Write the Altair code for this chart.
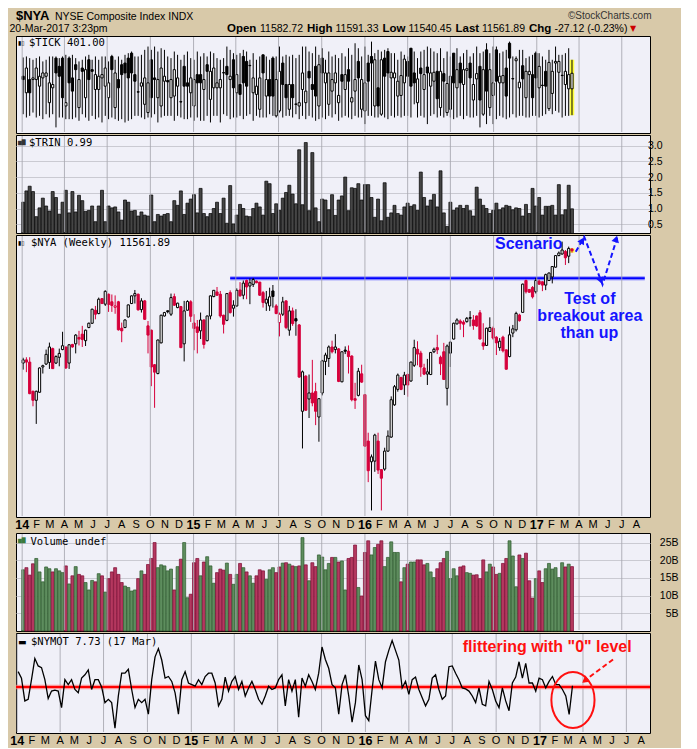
import altair as alt
import numpy as np
import pandas as pd

# ---------------------------------------------------------------------------
# Weekly data, week of 6-Jan-2014 ... week of 20-Mar-2017 (168 weeks)
# ---------------------------------------------------------------------------
nya_open = [
    10340, 10373, 10350, 10054, 9964, 10044, 10300, 10330, 10347, 10490,
    10340, 10400, 10480, 10507, 10340, 10533, 10540, 10607, 10642, 10573,
    10712, 10758, 10898, 10862, 11025, 10964, 11073, 10990, 10930, 10990,
    10705, 10712, 10825, 10971, 11055, 11073, 10905, 11000, 10730, 10684,
    10323, 10233, 10550, 10836, 10892, 10855, 11047, 10927, 10938, 10540,
    10898, 10990, 10761, 10719, 10677, 10793, 10573, 10836, 11047, 11098,
    11073, 10844, 10789, 11091, 10920, 10945, 11120, 11062, 11225, 11164,
    11182, 11218, 11207, 11091, 10975, 10945, 11109, 10945, 10765, 10855,
    11000, 10684, 10891, 10807, 10740, 9856, 10207, 9977, 10037, 10051,
    9800, 10037, 10357, 10387, 10507, 10480, 10487, 10149, 10475, 10463,
    10413, 9980, 10013, 10230, 10020, 9568, 9373, 9379, 9568, 9300,
    9305, 9473, 9606, 9919, 10073, 10193, 10117, 10223, 10157, 10317,
    10483, 10443, 10290, 10227, 10223, 10457, 10500, 10400, 10457, 10083,
    10443, 10590, 10751, 10782, 10770, 10775, 10818, 10793, 10836, 10871,
    10550, 10523, 10670, 10705, 10610, 10500, 10610, 10477, 10407, 10653,
    10688, 10846, 10875, 11225, 11126, 11148, 11100, 11218, 11211, 11174,
    11225, 11265, 11375, 11507, 11525, 11554, 11500, 11582.72,
]
nya_high = [
    10395, 10400, 10400, 10060, 10060, 10295, 10323, 10480, 10553, 10500,
    10420, 10490, 10667, 10510, 10535, 10540, 10642, 10677, 10730, 10690,
    10765, 10915, 10945, 11036, 11030, 11116, 11080, 11070, 11060, 11000,
    10765, 10800, 10960, 11060, 11120, 11080, 11029, 11010, 10782, 10690,
    10330, 10585, 10850, 10880, 10895, 11080, 11080, 10980, 10945, 11000,
    11007, 11007, 10855, 10793, 10873, 10800, 10840, 11060, 11120, 11153,
    11109, 10850, 11085, 11116, 11007, 11138, 11207, 11225, 11236, 11247,
    11254, 11225, 11210, 11109, 11109, 11145, 11175, 10964, 10873, 11044,
    11005, 10945, 10927, 10909, 10750, 10263, 10215, 10223, 10373, 10139,
    9985, 10373, 10447, 10523, 10573, 10642, 10495, 10460, 10513, 10523,
    10420, 10139, 10290, 10323, 10025, 9648, 9441, 9638, 9648, 9305,
    9505, 9670, 10003, 10117, 10233, 10200, 10250, 10233, 10355, 10583,
    10567, 10467, 10333, 10383, 10455, 10500, 10635, 10417, 10550, 10533,
    10567, 10765, 10811, 10800, 10790, 10825, 10889, 10846, 10840, 10900,
    10758, 10710, 10821, 10723, 10620, 10600, 10625, 10480, 10723, 10740,
    10882, 10860, 11190, 11236, 11130, 11163, 11255, 11236, 11215, 11302,
    11315, 11385, 11510, 11554, 11668, 11571, 11610, 11591.33,
]
nya_low = [
    10273, 10247, 10025, 9905, 9733, 10040, 10233, 10320, 10280, 10280,
    10330, 10307, 10473, 10280, 10280, 10500, 10440, 10523, 10507, 10517,
    10705, 10750, 10800, 10855, 10965, 10945, 10880, 10880, 10860, 10680,
    10557, 10705, 10820, 10965, 10971, 10895, 10873, 10795, 10440, 10105,
    9890, 10225, 10545, 10830, 10865, 10836, 10945, 10920, 10495, 10357,
    10895, 10772, 10473, 10440, 10590, 10490, 10565, 10800, 11040, 11055,
    10818, 10649, 10780, 10862, 10829, 10935, 11047, 11018, 11018, 10964,
    11153, 11195, 11055, 10927, 10891, 10891, 10927, 10855, 10618, 10836,
    10695, 10625, 10730, 10625, 10190, 9498, 9860, 9790, 9905, 9721,
    9562, 10013, 10217, 10300, 10440, 10440, 10146, 10145, 10433, 10233,
    9954, 9879, 10003, 10139, 9515, 9185, 8930, 9280, 9260, 8930,
    9290, 9467, 9600, 9910, 10050, 10065, 10017, 10000, 10150, 10300,
    10317, 10200, 10217, 10117, 10217, 10443, 10433, 10217, 10167, 9913,
    10300, 10585, 10745, 10688, 10610, 10765, 10723, 10688, 10720, 10588,
    10477, 10520, 10665, 10583, 10423, 10467, 10450, 10273, 10400, 10610,
    10670, 10775, 10870, 11081, 11090, 11026, 11081, 11175, 11107, 11118,
    11220, 11193, 11370, 11500, 11518, 11400, 11421, 11540.45,
]
nya_close = [
    10373, 10350, 10030, 9964, 10054, 10290, 10313, 10430, 10507, 10283,
    10407, 10440, 10520, 10290, 10530, 10507, 10632, 10590, 10585, 10684,
    10758, 10909, 10855, 11018, 10971, 11105, 10960, 10950, 10945, 10688,
    10677, 10793, 10956, 11055, 11080, 10902, 11000, 10800, 10632, 10300,
    10247, 10580, 10844, 10873, 10882, 11036, 10953, 10975, 10500, 10891,
    10993, 10833, 10702, 10660, 10793, 10533, 10836, 11055, 11116, 11062,
    10836, 10747, 11080, 10873, 10953, 11116, 11055, 11196, 11153, 11200,
    11236, 11200, 11062, 10982, 11018, 11044, 11048, 10862, 10855, 10989,
    10712, 10891, 10754, 10782, 10197, 10250, 9866, 10037, 9938, 9856,
    9980, 10363, 10423, 10507, 10457, 10507, 10153, 10457, 10462, 10407,
    9970, 9964, 10257, 10146, 9520, 9290, 9419, 9625, 9296, 9221,
    9473, 9616, 9970, 10100, 10217, 10073, 10217, 10117, 10350, 10500,
    10433, 10300, 10227, 10250, 10450, 10483, 10477, 10333, 10173, 10517,
    10557, 10758, 10793, 10758, 10748, 10811, 10812, 10733, 10728, 10590,
    10517, 10705, 10712, 10600, 10550, 10567, 10467, 10277, 10635, 10698,
    10864, 10786, 11185, 11100, 11095, 11044, 11225, 11185, 11174, 11291,
    11309, 11382, 11507, 11536, 11571, 11482, 11589.01, 11561.89,
]

tick_open = [
    288, -338, 163, 163, 163, -88, 225, 288, -713, -150,
    975, 663, 975, -838, 975, 225, 725, -900, 600, -525,
    913, 538, -213, -213, 225, -88, -525, 1038, -900, 163,
    725, 788, 975, 1163, 350, -300, -88, -775, -1088, 913,
    225, -525, -838, 100, 125, -525, -463, -88, -675, 663,
    38, -338, -838, 350, 350, -213, 725, -588, -150, -150,
    -150, 425, 663, 163, 913, -338, -25, 1038, 850, 700,
    -338, -400, -963, 1100, -463, 163, 975, -1213, -1025, 788,
    -25, -963, -25, -763, -838, -213, -713, 475, -25, 663,
    -838, 975, 38, -775, -275, 38, -713, 350, -213, 538,
    -688, -275, 850, -963, -1025, 788, 1038, -838, -150, -1150,
    975, 1225, 225, 225, -463, -438, 38, 850, 1350, 413,
    -713, 600, -213, 638, -88, 100, 475, -900, 388, -1088,
    -963, 1163, -150, 788, -25, 513, 788, -613, 188, 663,
    -1150, 1288, -900, -438, 1288, 38, 38, 600, 1538, 200,
    875, -150, 688, -525, 350, 350, 1163, -150, -50, 475,
    -938, -363, 788, 438, 325, -25, -188, -188,
]
tick_high = [
    1000, 1038, 975, 913, 975, 1038, 850, 913, 1038, 1038,
    1038, 975, 1038, 1100, 1038, 1100, 975, 850, 913, 1038,
    1100, 913, 1038, 913, 1038, 1038, 850, 1100, 913, 1038,
    913, 1100, 1163, 1225, 1038, 1038, 1100, 1288, 1413, 1288,
    1413, 1225, 1350, 1288, 1038, 975, 1225, 1100, 913, 1100,
    1225, 975, 913, 1225, 1038, 1163, 1038, 1225, 1163, 975,
    913, 975, 1413, 1288, 1163, 1100, 1163, 1288, 1225, 913,
    1163, 913, 1038, 1100, 1038, 913, 1038, 1038, 1413, 1038,
    1100, 1038, 1100, 975, 1100, 1413, 1413, 1225, 1163, 1413,
    1100, 1350, 913, 1225, 1038, 1100, 975, 1163, 1038, 1350,
    1100, 1538, 1350, 1038, 1413, 1100, 1600, 1163, 1288, 1225,
    1288, 1350, 1163, 1163, 913, 1225, 1100, 1038, 1350, 1225,
    975, 1225, 1288, 1413, 1350, 1225, 1163, 1350, 975, 1225,
    1038, 1163, 1350, 1038, 1163, 1288, 1038, 1163, 1413, 1163,
    1225, 1538, 1163, 1413, 1413, 1163, 1225, 1288, 1600, 1038,
    1038, 1288, 1288, 975, 1038, 1100, 1225, 1163, 1038, 913,
    1288, 913, 1413, 1100, 1100, 1163, 1350, 913,
]
tick_low = [
    -1150, -1275, -1213, -1088, -1275, -1213, -1338, -1150, -1275, -1150,
    -1650, -1275, -1275, -1338, -1338, -1338, -1275, -1400, -1150, -1275,
    -1400, -1213, -1338, -1275, -1463, -1213, -1338, -1275, -1338, -1400,
    -1338, -1463, -1400, -1338, -1213, -1213, -1275, -1338, -1275, -1275,
    -1150, -1463, -1275, -1213, -1213, -1213, -1400, -1213, -1275, -1338,
    -1338, -1275, -1400, -1275, -1400, -1400, -1213, -1463, -1213, -1213,
    -1463, -1150, -1213, -1338, -1275, -1275, -1213, -1338, -1213, -1150,
    -1400, -1213, -1275, -1275, -1275, -1150, -1213, -1275, -1088, -1275,
    -1213, -1213, -1275, -1150, -1338, -1213, -1338, -1213, -1275, -1400,
    -1338, -1275, -1338, -1213, -1275, -1150, -1400, -1275, -1213, -1275,
    -1338, -1213, -1275, -1275, -1525, -1213, -1213, -1275, -1275, -1213,
    -1275, -1338, -1213, -1275, -1213, -1275, -1213, -1213, -1275, -775,
    -1275, -1213, -1275, -1525, -1213, -1150, -1275, -1213, -1275, -1213,
    -1275, -1338, -1275, -1213, -1338, -1213, -1275, -1275, -1213, -1650,
    -1213, -1525, -1213, -1525, -1338, -1213, -1275, -1338, -1275, -1150,
    -1275, -1213, -1213, -1275, -1275, -1213, -1213, -1275, -1213, -1150,
    -1025, -1150, -1025, -1088, -1275, -1213, -1213, -1188,
]
tick_close = [
    163, 600, -338, 225, 600, 288, 413, 413, 38, -25,
    413, 288, -525, -713, 38, -275, 538, 163, 475, 538,
    163, 475, 350, 288, 350, 600, 38, 538, 413, -150,
    350, 413, 225, 413, 100, -313, 38, 225, 38, -525,
    163, 163, 600, 288, 75, 163, 538, 225, -688, -88,
    -88, 225, 163, 38, 38, 163, 475, 475, 600, 38,
    163, 413, 350, 288, -150, 350, -400, 38, -88, 688,
    225, -88, 225, 413, 163, -463, -463, 163, 475, -25,
    -525, -25, -525, -775, -713, 413, -275, 225, -213, -463,
    725, 413, 413, 413, 163, 413, -438, 100, 350, 100,
    -525, 163, 225, 163, 38, 100, 788, 913, -838, 913,
    288, 413, 438, 413, 100, 313, 938, 288, -88, 38,
    188, 388, 350, 413, 413, 438, -563, 475, 100, 13,
    288, 38, 538, 38, 538, 575, 225, -25, 388, -613,
    538, -275, 538, 38, 100, 288, 313, -463, 975, 188,
    950, 63, 188, 475, 475, -525, 225, 663, -63, -88,
    813, 475, 850, 850, 313, 475, 350, 401,
]

trin_values = [
    1.20, 1.56, 1.71, 1.54, 0.74, 1.02, 1.33, 1.08, 0.92, 1.54,
    1.35, 0.82, 1.20, 1.58, 0.86, 1.54, 0.89, 1.42, 1.25, 0.91,
    0.94, 1.08, 0.58, 1.08, 1.58, 0.58, 1.08, 1.02, 1.05, 0.89,
    0.63, 1.27, 1.20, 0.92, 0.94, 0.76, 0.89, 0.79, 0.76, 1.43,
    0.58, 0.81, 0.76, 0.81, 0.84, 0.58, 1.25, 1.10, 1.56, 0.81,
    1.17, 1.30, 1.44, 0.86, 1.64, 0.84, 0.74, 0.84, 1.00, 1.20,
    0.84, 1.33, 0.53, 1.73, 0.51, 0.79, 1.13, 1.00, 0.76, 0.74,
    1.00, 1.17, 1.05, 0.79, 1.87, 1.79, 0.84, 1.15, 0.94, 1.33,
    1.51, 1.74, 1.46, 1.15, 2.87, 1.12, 3.10, 0.93, 2.78, 1.02,
    0.58, 1.30, 1.27, 0.96, 1.44, 0.78, 1.27, 1.40, 2.00, 0.93,
    1.66, 1.64, 1.79, 1.27, 1.76, 1.76, 1.35, 0.72, 1.30, 0.61,
    1.82, 0.72, 0.86, 1.10, 0.84, 0.79, 1.05, 1.17, 1.07, 1.12,
    0.94, 2.16, 1.35, 1.08, 1.27, 1.45, 1.05, 2.20, 0.86, 0.43,
    1.20, 0.94, 1.02, 1.10, 1.00, 1.10, 0.93, 0.76, 1.68, 1.30,
    1.10, 1.00, 0.84, 0.94, 1.17, 0.96, 1.02, 1.10, 1.07, 0.96,
    1.02, 1.00, 0.76, 1.13, 0.84, 1.64, 1.08, 1.35, 0.79, 1.07,
    1.07, 1.10, 0.79, 1.76, 0.80, 0.96, 1.74, 0.99,
]

volume_billions = [
    17.3, 17.9, 15.8, 19.0, 20.5, 16.7, 13.9, 18.1, 17.6, 16.7,
    17.6, 17.0, 16.5, 18.4, 13.3, 15.6, 18.2, 16.0, 15.6, 13.7,
    11.6, 14.3, 13.9, 16.2, 15.6, 11.0, 14.8, 16.7, 17.9, 16.0,
    13.7, 12.7, 12.3, 11.3, 11.6, 14.8, 17.0, 16.0, 18.8, 20.5,
    25.0, 17.9, 18.7, 18.4, 17.0, 17.5, 11.6, 18.2, 20.3, 25.0,
    9.4, 10.4, 19.3, 20.5, 15.6, 19.5, 21.0, 18.4, 13.5, 16.5,
    17.5, 17.2, 19.2, 16.0, 13.2, 16.0, 19.1, 17.9, 16.7, 15.6,
    13.5, 15.6, 17.3, 17.0, 14.6, 17.3, 17.9, 16.5, 18.1, 19.2,
    19.3, 18.9, 18.4, 18.2, 18.4, 26.4, 18.7, 14.2, 19.3, 18.2,
    21.5, 20.9, 17.3, 19.1, 20.8, 20.8, 19.5, 19.8, 11.6, 20.5,
    20.8, 24.3, 12.3, 9.9, 22.2, 25.5, 21.5, 23.6, 24.5, 25.5,
    18.2, 20.8, 25.2, 22.2, 22.2, 13.9, 17.9, 18.9, 19.5, 19.5,
    20.1, 20.1, 18.7, 19.1, 16.7, 15.1, 17.6, 19.3, 20.5, 22.5,
    14.8, 17.6, 15.6, 18.1, 18.4, 16.5, 16.3, 15.8, 15.9, 14.8,
    20.1, 16.7, 18.9, 18.1, 16.0, 16.3, 19.1, 20.5, 25.5, 21.2,
    12.5, 21.5, 20.5, 22.0, 14.2, 9.3, 14.8, 17.0, 13.7, 17.6,
    19.1, 17.5, 17.9, 15.1, 19.3, 18.1, 18.9, 18.2,
]

nymot_values = [
    106, 61, -97, -86, 50, 197, 145, 133, 50, -81,
    -29, -23, -29, -143, 50, 16, 50, -18, -41, 61,
    84, 118, -18, 50, 50, 0, -109, -86, -109, -285,
    -63, 95, 95, 122, -18, -143, -86, -109, -86, -188,
    50, 208, 265, 186, 61, 72, 38, -41, -188, 50,
    106, 27, 16, 5, 50, 16, 72, 95, 95, 27,
    -131, -86, 68, -29, 38, 72, -18, 38, -63, -7,
    38, -18, -86, -120, -63, 5, -18, -7, 50, 84,
    -131, 50, -29, 50, -210, 61, 5, 84, 38, -18,
    95, 276, 190, 129, 16, -7, -188, 16, 84, -63,
    -244, -109, 152, 50, -199, -233, -18, 179, 50, -7,
    174, 253, 321, 253, 186, -7, 38, -52, 50, 68,
    -18, -75, -131, -86, 61, 84, -18, -86, -63, 140,
    145, 95, 50, -7, -14, -29, -63, -109, -7, -120,
    -131, 38, -18, -97, -143, -7, -97, -165, 27, 68,
    174, 61, 163, 27, 27, -29, 61, 50, -7, 38,
    72, 16, 16, -18, -63, -190, 7.73,
]

breakout_level = 11250

N = len(nya_close)
for arr in (nya_open, nya_high, nya_low, tick_open, tick_high, tick_low, tick_close,
            trin_values, volume_billions):
    assert len(arr) == N, len(arr)
assert len(nymot_values) == N - 1

# weekly bars are drawn one trading day ahead of each week's Monday, as on the source chart
week_dates = pd.date_range("2014-01-03", periods=N, freq="7D")

# month / quarter scaffolding for the time axis
month_starts = pd.date_range("2014-01-01", "2017-08-01", freq="MS")
month_df = pd.DataFrame({
    "date": month_starts,
    "label": [d.strftime("%y") if d.month == 1 else d.strftime("%b")[0] for d in month_starts],
    "is_year": [d.month == 1 for d in month_starts],
})
quarter_df = month_df[[d.month in (1, 4, 7, 10) for d in month_starts]][["date"]]

# ---------------------------------------------------------------------------
# Styling
# ---------------------------------------------------------------------------
W = 634
H_HEAD, H_TICK, H_TRIN, H_MAIN, H_VOL, H_MOT = 25, 97, 98, 282, 98, 100

BG = "#D8C9A9"
PLOT_BG = "#F0F0F8"
GRID_H = "#CACAD2"
GRID_V = "#A6A6AE"
RED = "#D6003B"
RED2 = "#FF1010"
BLUE = "#1414FF"
LFONT = "Liberation Sans"
TFONT = "DejaVu Sans Mono"

xscale = alt.Scale(domain=[alt.DateTime(year=2013, month=12, date=29, hours=12),
                           alt.DateTime(year=2017, month=8, date=19, hours=12)])


def X():
    return alt.X("date:T", scale=xscale, axis=None)


def y_axis(values, pad, expr):
    return alt.Axis(
        orient="right", values=values, title=None, domain=False, ticks=False, tickSize=0,
        grid=True, gridColor=GRID_H, labelAlign="right", labelPadding=pad, labelExpr=expr,
        labelFont=LFONT, labelFontSize=10.5, labelColor="black", labelBaseline="middle",
        labelFlush=False, labelOverlap=False,
    )


def quarter_grid(h):
    # quarterly vertical grid
    return alt.Chart(quarter_df).mark_rule(color=GRID_V, strokeWidth=1, opacity=0.85).encode(
        x=X(), y=alt.value(1), y2=alt.value(h - 1))


def month_labels(h):
    years = alt.Chart(month_df[month_df["is_year"]]).mark_text(
        font=LFONT, fontSize=12.5, fontWeight="bold", color="black",
        align="center", baseline="top").encode(x=X(), y=alt.value(h + 1.5), text="label:N")
    months = alt.Chart(month_df[~month_df["is_year"]]).mark_text(
        font=LFONT, fontSize=11, color="black",
        align="center", baseline="top").encode(x=X(), y=alt.value(h + 2), text="label:N")
    return [years, months]


def text_layer(text, x, y, size, weight="normal", color="black", align="left",
               baseline="alphabetic", font=LFONT):
    return alt.Chart(pd.DataFrame({"t": [text]})).mark_text(
        align=align, baseline=baseline, font=font, fontSize=size, fontWeight=weight, color=color
    ).encode(x=alt.value(x), y=alt.value(y), text="t:N")


def panel_title(icon, icon_color, icon_size, text, x, y):
    return [
        text_layer(icon, 2, y + 1.5, icon_size, color=icon_color, baseline="top", font="DejaVu Sans"),
        text_layer(text, x, y, 10.5, baseline="top", font=TFONT),
    ]


# ---------------------------------------------------------------------------
# Header
# ---------------------------------------------------------------------------
chg = nya_close[-1] - nya_close[-2]
chg_pct = chg / nya_close[-2] * 100
LINE2 = 22.5
header_layers = [
    text_layer("$NYA", 0, 11, 13, weight="bold"),
    text_layer("NYSE Composite Index  INDX", 39, 11, 10.5),
    text_layer("\u00a9StockCharts.com", 635.5, 10, 10, align="right", color="#333333"),
    text_layer("20-Mar-2017 3:23pm", -6.5, LINE2, 10.5),
    text_layer("Open", 211, LINE2, 11.5, weight="bold"),
    text_layer(f"{nya_open[-1]:.2f}", 244, LINE2, 10.5),
    text_layer("High", 291, LINE2, 11.5, weight="bold"),
    text_layer(f"{nya_high[-1]:.2f}", 319.5, LINE2, 10.5),
    text_layer("Low", 366.5, LINE2, 11.5, weight="bold"),
    text_layer(f"{nya_low[-1]:.2f}", 392.5, LINE2, 10.5),
    text_layer("Last", 439.5, LINE2, 11.5, weight="bold"),
    text_layer(f"{nya_close[-1]:.2f}", 466, LINE2, 10.5),
    text_layer("Chg", 513, LINE2, 11.5, weight="bold"),
    text_layer(f"{chg:.2f} ({chg_pct:.2f}%)", 538.5, LINE2, 10.5),
    text_layer("\u25bc", 614, LINE2 - 0.5, 8, color="#CC0000", font="DejaVu Sans"),
]
header = alt.layer(*header_layers).properties(
    width=W, height=H_HEAD, view=alt.ViewBackground(fill=BG, stroke="transparent")
)

# ---------------------------------------------------------------------------
# $TICK panel
# ---------------------------------------------------------------------------
tick_df = pd.DataFrame({"date": week_dates, "open": tick_open, "high": tick_high,
                        "low": tick_low, "close": tick_close})
tick_df["fill"] = np.where(tick_df["close"] > tick_df["open"], "white", "black")
tick_y = alt.Scale(domain=[-1862, 1813], nice=False, zero=False)

tick_hl = alt.Chart(tick_df.tail(1)).mark_bar(size=4.5, color="#FFFF3C").encode(
    x=X(), y=alt.Y("low:Q", scale=tick_y,
                   axis=y_axis([-1500, -1000, -500, 0, 500, 1000, 1500], 28, "'' + datum.value")),
    y2="high:Q")
tick_wick = alt.Chart(tick_df).mark_rule(color="black", strokeWidth=1).encode(
    x=X(), y=alt.Y("low:Q", scale=tick_y, axis=None), y2="high:Q")
tick_body = alt.Chart(tick_df).mark_bar(size=2.2, stroke="black", strokeWidth=1).encode(
    x=X(), y=alt.Y("open:Q", scale=tick_y, axis=None), y2="close:Q",
    fill=alt.Fill("fill:N", scale=None))
tick_panel = alt.layer(
    tick_hl, tick_wick, tick_body, quarter_grid(H_TICK),
    *panel_title("\u25ae\u25af", "black", 6, f"$TICK {tick_close[-1]:.2f}", 13, 2),
).properties(width=W, height=H_TICK)

# ---------------------------------------------------------------------------
# $TRIN panel
# ---------------------------------------------------------------------------
trin_df = pd.DataFrame({"date": week_dates, "trin": trin_values})
trin_y = alt.Scale(domain=[0.22, 3.34], nice=False, zero=False)
trin_bars = alt.Chart(trin_df).mark_bar(size=3.0, fill="#454545", stroke="black",
                                        strokeWidth=0.7, clip=True).encode(
    x=X(),
    y=alt.Y("trin:Q", scale=trin_y,
            axis=y_axis([0.5, 1.0, 1.5, 2.0, 2.5, 3.0], 12, "format(datum.value, '.1f')")),
    y2=alt.datum(0))
trin_panel = alt.layer(
    trin_bars, quarter_grid(H_TRIN),
    *panel_title("\u2586\u2588", "#333333", 5, f"$TRIN {trin_values[-1]:.2f}", 13, 3),
).properties(width=W, height=H_TRIN)

# ---------------------------------------------------------------------------
# $NYA weekly candles
# ---------------------------------------------------------------------------
nya_df = pd.DataFrame({"date": week_dates, "open": nya_open, "high": nya_high,
                       "low": nya_low, "close": nya_close})
prev_close = nya_df["close"].shift(1).fillna(nya_df["open"])
up = nya_df["close"] >= prev_close
nya_df["color"] = np.where(up, "black", RED)
nya_df["fill"] = np.where(nya_df["close"] > nya_df["open"], "white", nya_df["color"])
nya_y = alt.Scale(type="log", domain=[8872, 11745], nice=False, zero=False)

level_df = pd.DataFrame({"date": [pd.Timestamp("2015-03-20"), pd.Timestamp("2017-08-19")],
                         "price": [breakout_level, breakout_level]})
level_glow = alt.Chart(level_df).mark_line(color="#7A7AFF", strokeWidth=4.5, opacity=0.6).encode(
    x=X(), y=alt.Y("price:Q", scale=nya_y, axis=None))
level_line = alt.Chart(level_df).mark_line(color="#0000FF", strokeWidth=2).encode(
    x=X(), y=alt.Y("price:Q", scale=nya_y, axis=None))

nya_hl = alt.Chart(nya_df.tail(1)).mark_bar(size=5, color="#FFFF3C").encode(
    x=X(), y=alt.Y("low:Q", scale=nya_y, axis=None), y2="high:Q")
nya_wick = alt.Chart(nya_df).mark_rule(strokeWidth=1).encode(
    x=X(),
    y=alt.Y("low:Q", scale=nya_y,
            axis=y_axis(list(range(9000, 11601, 200)), 32, "'' + datum.value")),
    y2="high:Q", color=alt.Color("color:N", scale=None))
nya_body = alt.Chart(nya_df).mark_bar(size=2.2, strokeWidth=1).encode(
    x=X(), y=alt.Y("open:Q", scale=nya_y, axis=None), y2="close:Q",
    fill=alt.Fill("fill:N", scale=None), stroke=alt.Stroke("color:N", scale=None))

scenario_path = pd.DataFrame({
    "date": pd.to_datetime(["2017-03-25", "2017-04-12", "2017-05-21", "2017-06-22"]),
    "price": [11551, 11722, 11181, 11728], "order": [0, 1, 2, 3]})
scenario_heads = pd.DataFrame({
    "date": pd.to_datetime(["2017-04-08", "2017-05-18", "2017-06-19"]),
    "price": [11682, 11222, 11700], "ang": [29, 159, 16]})
scen_line = alt.Chart(scenario_path).mark_line(color=BLUE, strokeWidth=2, strokeDash=[5, 3],
                                               clip=True).encode(
    x=X(), y=alt.Y("price:Q", scale=nya_y, axis=None), order="order:Q")
scen_heads = alt.Chart(scenario_heads).mark_point(shape="triangle-up", filled=True, size=60,
                                                  color=BLUE, opacity=1, clip=True).encode(
    x=X(), y=alt.Y("price:Q", scale=nya_y, axis=None), angle=alt.Angle("ang:Q", scale=None))
scen_text = pd.DataFrame({
    "date": pd.to_datetime(["2016-12-15", "2017-04-24", "2017-04-24", "2017-04-23"]),
    "price": [11642, 11022, 10835, 10652],
    "t": ["Scenario", "Test of", "breakout area", "than up"]})
scen_labels = alt.Chart(scen_text).mark_text(font=LFONT, fontSize=16, fontWeight="bold",
                                             color=BLUE, baseline="middle", align="center").encode(
    x=X(), y=alt.Y("price:Q", scale=nya_y, axis=None), text="t:N")

main_panel = alt.layer(
    level_glow, level_line, nya_hl, nya_wick, nya_body, quarter_grid(H_MAIN),
    scen_line, scen_heads, scen_labels,
    *panel_title("\u25ae\u25af", "black", 6, f"$NYA (Weekly) {nya_close[-1]:.2f}", 15, 3),
    *month_labels(H_MAIN),
).properties(width=W, height=H_MAIN)

# ---------------------------------------------------------------------------
# Volume panel
# ---------------------------------------------------------------------------
vol_df = pd.DataFrame({"date": week_dates, "vol": volume_billions})
vol_df["fill"] = np.where(up, "#5E8D5E", "#B4385F")
vol_df["stroke"] = np.where(up, "#2C5A2C", "#7C0A32")
vol_y = alt.Scale(domain=[0, 27.7], nice=False, zero=True)
vol_bars = alt.Chart(vol_df).mark_bar(size=3.0, strokeWidth=0.7).encode(
    x=X(),
    y=alt.Y("vol:Q", scale=vol_y, axis=y_axis([5, 10, 15, 20, 25], 28, "datum.value + 'B'")),
    fill=alt.Fill("fill:N", scale=None), stroke=alt.Stroke("stroke:N", scale=None))
vol_panel = alt.layer(
    vol_bars, quarter_grid(H_VOL),
    *panel_title("\u2586\u2588", "#3C7A3C", 5, "Volume undef", 14.5, 3.5),
).properties(width=W, height=H_VOL)

# ---------------------------------------------------------------------------
# $NYMOT panel
# ---------------------------------------------------------------------------
mot_df = pd.DataFrame({"date": week_dates[:N - 1], "mot": nymot_values})
mot_y = alt.Scale(domain=[-319, 373], nice=False, zero=False)
zero_df = pd.DataFrame({"level": [0]})
zero_glow = alt.Chart(zero_df).mark_rule(color="#FF7070", strokeWidth=4.5, opacity=0.7).encode(
    y=alt.Y("level:Q", scale=mot_y, axis=None), x=alt.value(0), x2=alt.value(W))
zero_line = alt.Chart(zero_df).mark_rule(color="#FF0000", strokeWidth=2).encode(
    y=alt.Y("level:Q", scale=mot_y, axis=None), x=alt.value(0), x2=alt.value(W))
mot_line = alt.Chart(mot_df).mark_line(color="black", strokeWidth=1.3).encode(
    x=X(),
    y=alt.Y("mot:Q", scale=mot_y,
            axis=y_axis([-300, -200, -100, 0, 100, 200, 300], 22, "'' + datum.value")))

ELLIPSE = "M 0.771 0 A 0.771 1 0 1 1 -0.771 0 A 0.771 1 0 1 1 0.771 0 Z"
ring_df = pd.DataFrame({"date": [pd.Timestamp("2017-03-11")], "mot": [-91]})
mot_ring = alt.Chart(ring_df).mark_point(shape=ELLIPSE, size=3136, filled=False, color=RED2,
                                         strokeWidth=2, opacity=1).encode(
    x=X(), y=alt.Y("mot:Q", scale=mot_y, axis=None))
arrow_df = pd.DataFrame({"date": pd.to_datetime(["2017-06-03", "2017-03-29"]),
                         "mot": [190, 27], "order": [0, 1]})
mot_arrow = alt.Chart(arrow_df).mark_line(color=RED2, strokeWidth=2, strokeDash=[5, 3]).encode(
    x=X(), y=alt.Y("mot:Q", scale=mot_y, axis=None), order="order:Q")
head_df = pd.DataFrame({"date": [pd.Timestamp("2017-04-05")], "mot": [43], "ang": [232.5]})
mot_head = alt.Chart(head_df).mark_point(shape="triangle-up", filled=True, size=60, color=RED2,
                                         opacity=1).encode(
    x=X(), y=alt.Y("mot:Q", scale=mot_y, axis=None), angle=alt.Angle("ang:Q", scale=None))
note_df = pd.DataFrame({"date": [pd.Timestamp("2017-01-16")], "mot": [275],
                        "t": ['flittering with "0" level']})
mot_note = alt.Chart(note_df).mark_text(font=LFONT, fontSize=16, fontWeight="bold", color=RED2,
                                        align="center", baseline="middle").encode(
    x=X(), y=alt.Y("mot:Q", scale=mot_y, axis=None), text="t:N")

mot_panel = alt.layer(
    quarter_grid(H_MOT), zero_glow, zero_line, mot_line, mot_ring, mot_arrow, mot_head, mot_note,
    *panel_title("\u25ac", "black", 9, f"$NYMOT {nymot_values[-1]:.2f} (17 Mar)", 15, 3.5),
    *month_labels(H_MOT),
).properties(width=W, height=H_MOT)

# ---------------------------------------------------------------------------
chart = alt.vconcat(
    header, tick_panel, trin_panel, main_panel, vol_panel, mot_panel, spacing=0
).resolve_scale(
    x="independent", y="independent"
).properties(
    padding={"left": 1, "top": 0, "right": 2, "bottom": 0}
).configure(
    background=BG
).configure_view(
    fill=PLOT_BG, stroke="black", strokeWidth=1
)

chart.save("out.html", embed_options={"renderer": "svg", "actions": False})
